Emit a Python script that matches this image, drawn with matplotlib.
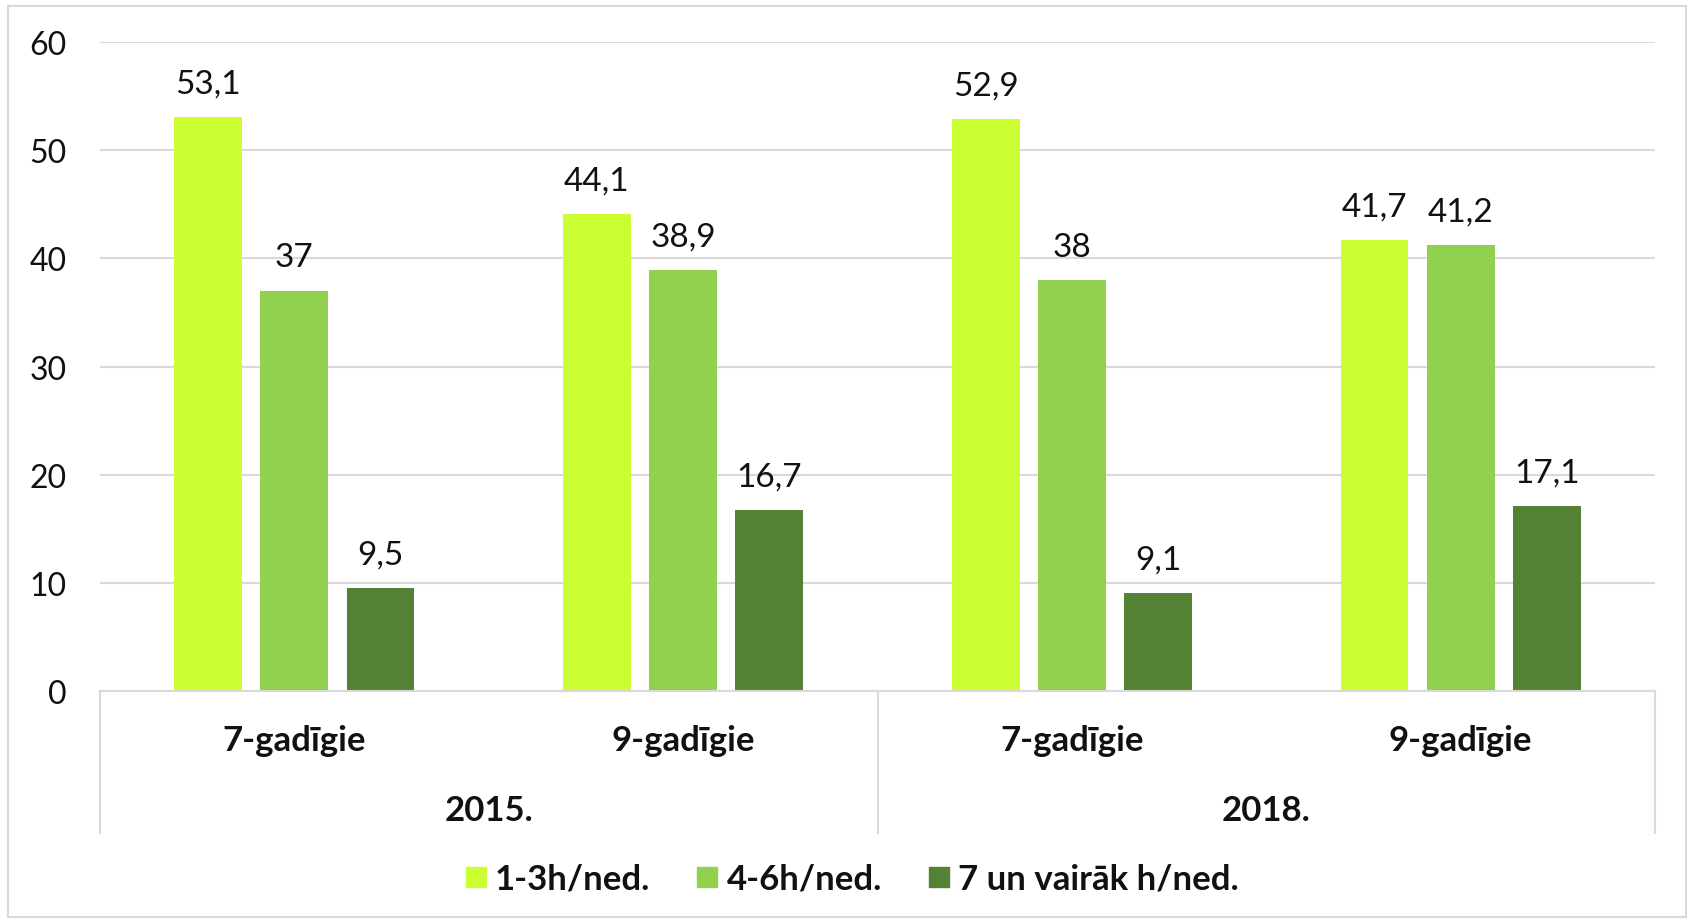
import numpy as np
import matplotlib
matplotlib.use('Agg')
import matplotlib.pyplot as plt
from matplotlib.lines import Line2D
from matplotlib.patches import Rectangle
import matplotlib.transforms as mtransforms

plt.rcParams['font.family'] = ['Lato', 'DejaVu Sans']

# Data
groups = ['7-gadīgie', '9-gadīgie', '7-gadīgie', '9-gadīgie']
years = ['2015.', '2018.']
series = ['1-3h/ned.', '4-6h/ned.', '7 un vairāk h/ned.']
low = [53.1, 44.1, 52.9, 41.7]
mid = [37.0, 38.9, 38.0, 41.2]
high = [9.5, 16.7, 9.1, 17.1]
colors = ['#CCFF33', '#92D050', '#548235']

fig = plt.figure(figsize=(16.88, 9.2), dpi=100)
ax = fig.add_axes([100 / 1688, 1 - 692 / 920, 1555 / 1688, 649 / 920])

x = np.arange(len(groups))
step = 0.2216
width = 0.1745
for i, (vals, col) in enumerate(zip([low, mid, high], colors)):
    pos = x + (i - 1) * step
    ax.bar(pos, vals, width=width, color=col, zorder=2)
    for px, v in zip(pos, vals):
        ax.annotate(f"{v:g}".replace('.', ','), (px, v), xytext=(0, 24),
                    textcoords='offset points', ha='center', va='center',
                    fontsize=24, color='#111111')

ax.set_xlim(-0.5, 3.5)
ax.set_ylim(0, 60)
ax.set_yticks(range(0, 61, 10))
ax.tick_params(axis='y', length=0, labelsize=23, pad=24, labelcolor='#111111')
ax.set_xticks([])
for s in ['top', 'right', 'left']:
    ax.spines[s].set_visible(False)
ax.spines['bottom'].set_color('#D9D9D9')
ax.spines['bottom'].set_linewidth(1.5)
ax.yaxis.grid(True, color='#D9D9D9', linewidth=1.5, zorder=0)
ax.set_axisbelow(True)

# two-level category axis
trans = mtransforms.blended_transform_factory(ax.transData, ax.transAxes)
for sx in [-0.5, 1.5, 3.5]:
    ax.add_line(Line2D([sx, sx], [0, -0.219], transform=trans, color='#D9D9D9',
                       linewidth=1.5, clip_on=False))
for xi, g in zip(x, groups):
    ax.text(xi, -0.0755, g, transform=trans, ha='center', va='center',
            fontsize=25, fontweight='bold', color='#111111')
for yi, yr in enumerate(years):
    ax.text(0.5 + 2 * yi, -0.1834, yr, transform=trans, ha='center', va='center',
            fontsize=25, fontweight='bold', color='#111111')

# legend
handles = [Line2D([], [], marker='s', linestyle='none', markersize=15,
                  markerfacecolor=c, markeredgecolor=c) for c in colors]
leg = fig.legend(handles, series, loc='center', bbox_to_anchor=(853 / 1688, 1 - 880 / 920),
                 ncol=3, frameon=False, handlelength=0.5, handletextpad=0.3,
                 columnspacing=1.4, prop={'size': 25, 'weight': 'bold'})
for t in leg.get_texts():
    t.set_color('#111111')

# outer chart border
fig.patches.append(Rectangle((8 / 1688, 2 / 920), 1678 / 1688, 911 / 920,
                             transform=fig.transFigure, fill=False,
                             edgecolor='#D9D9D9', linewidth=1.5))

fig.savefig('out.png', dpi=100)
